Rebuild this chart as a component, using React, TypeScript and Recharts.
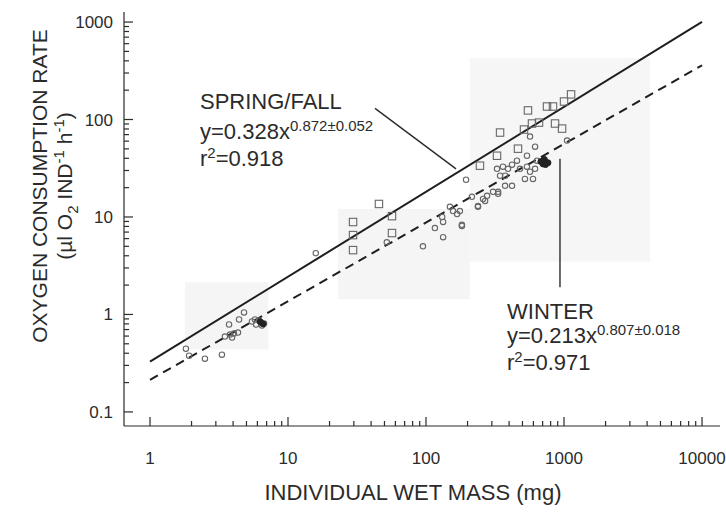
import React from 'react';
import { ScatterChart, Scatter, XAxis, YAxis, ReferenceLine, ReferenceArea } from 'recharts';

// axis ticks (log decades + minor ticks)
const xTicks = [1, 2, 3, 4, 5, 6, 7, 8, 9, 10, 20, 30, 40, 50, 60, 70, 80, 90, 100, 200, 300, 400, 500, 600, 700, 800, 900, 1000, 2000, 3000, 4000, 5000, 6000, 7000, 8000, 9000, 10000];
const xLabels = [1, 10, 100, 1000, 10000];
const yTicks = [0.1, 0.2, 0.3, 0.4, 0.5, 0.6, 0.7, 0.8, 0.9, 1, 2, 3, 4, 5, 6, 7, 8, 9, 10, 20, 30, 40, 50, 60, 70, 80, 90, 100, 200, 300, 400, 500, 600, 700, 800, 900, 1000];
const yLabels = [0.1, 1, 10, 100, 1000];

// spring / fall (open squares)
const springMass = [29.6, 29.6, 29.6, 45.6, 56.7, 56.7, 246, 327, 344, 464, 513, 548, 586, 659, 753, 832, 861, 968, 1000, 1125];
const springRate = [4.57, 6.52, 8.88, 13.6, 6.84, 10.2, 33.6, 42.5, 73.5, 50.2, 78.9, 124, 91, 93, 136, 136, 91, 80.7, 153, 181];

// winter (open circles)
const winterMass = [1.82, 1.92, 2.5, 3.32, 3.74, 4.42, 4.8, 3.49, 3.8, 4.06, 4.34, 3.93, 5.48, 5.87, 6.16, 6.48, 5.76, 6.7, 15.9, 52, 95, 195, 149, 157, 176, 131, 133, 116, 182, 133, 238, 268, 277, 306, 333, 567, 617, 1052, 456, 539, 637, 327, 361, 393, 420, 344, 374, 480, 539, 567, 617, 521, 596, 374, 420, 333, 259, 215, 238, 168, 182];
const winterRate = [0.446, 0.378, 0.352, 0.387, 0.789, 0.888, 1.05, 0.593, 0.622, 0.637, 0.652, 0.579, 0.847, 0.789, 0.867, 0.77, 0.888, 0.808, 4.25, 5.5, 5.0, 24.1, 12.7, 11.5, 11.5, 10.0, 8.9, 7.7, 8.1, 6.2, 13.0, 14.6, 16.5, 18.1, 18.1, 66.8, 52.7, 60.8, 37.8, 42.5, 37.8, 31.2, 32.8, 31.2, 34.4, 26.5, 26.5, 31.2, 32.8, 29.1, 31.2, 24.6, 24.6, 20.9, 20.9, 17.3, 15.3, 16.1, 12.7, 10.7, 8.3];

// winter points printed solid (overlapping cluster)
const winterDarkMass = [680, 705, 735, 765, 720, 6.3, 6.6];
const winterDarkRate = [37, 35, 34.5, 36, 39, 0.84, 0.8];

// regression line end points (x = 1 and x = 10000)
const springFitMass = [1, 10000];
const springFitRate = [0.328, 1002];
const winterFitMass = [1, 10000];
const winterFitRate = [0.213, 360];

const zip = (xs: number[], ys: number[]) => xs.map((x, i) => ({ x, y: ys[i] }));

const springData = zip(springMass, springRate);
const winterData = zip(winterMass, winterRate);
const winterDark = zip(winterDarkMass, winterDarkRate);
const springFit = zip(springFitMass, springFitRate);
const winterFit = zip(winterFitMass, winterFitRate);

const ink = '#2b2b2b';
const font = '"Liberation Sans", Arial, Helvetica, sans-serif';

const BottomTick = (props: any) => {
    const { x, y, payload } = props;
    const major = xLabels.includes(payload.value);
    return (
        <g>
            <line x1={x} y1={y} x2={x} y2={y - (major ? 9 : 5)} stroke={ink} strokeWidth={1.2} />
            {major && (
                <text x={x} y={y + 38} textAnchor="middle" fill={ink} fontSize={17} fontFamily={font}>
                    {payload.value}
                </text>
            )}
        </g>
    );
};

const TopTick = (props: any) => {
    const { x, y, payload } = props;
    const major = xLabels.includes(payload.value);
    return <line x1={x} y1={y} x2={x} y2={y + (major ? 9 : 5)} stroke={ink} strokeWidth={1.2} />;
};

const LeftTick = (props: any) => {
    const { x, y, payload } = props;
    const major = yLabels.includes(payload.value);
    return (
        <g>
            <line x1={x} y1={y} x2={x + (major ? 9 : 5)} y2={y} stroke={ink} strokeWidth={1.2} />
            {major && (
                <text x={x - 11} y={y + 6} textAnchor="end" fill={ink} fontSize={17} fontFamily={font}>
                    {payload.value}
                </text>
            )}
        </g>
    );
};

const RightTick = (props: any) => {
    const { x, y, payload } = props;
    const major = yLabels.includes(payload.value);
    return <line x1={x} y1={y} x2={x - (major ? 9 : 5)} y2={y} stroke={ink} strokeWidth={1.2} />;
};

const SquareMark = (p: any) => (
    <rect x={p.cx - 3.7} y={p.cy - 3.7} width={7.4} height={7.4} fill="none" stroke="#666" strokeWidth={1.1} />
);
const CircleMark = (p: any) => <circle cx={p.cx} cy={p.cy} r={2.7} fill="none" stroke="#666" strokeWidth={1.1} />;
const DarkMark = (p: any) => <circle cx={p.cx} cy={p.cy} r={3} fill="#222" stroke="#222" strokeWidth={1} />;
const NoMark = () => <g />;

const sup: React.CSSProperties = { fontSize: 15, position: 'relative', top: -8 };
const sub: React.CSSProperties = { fontSize: 15, position: 'relative', top: 6 };

const textLine = (left: number, top: number): React.CSSProperties => ({
    position: 'absolute',
    left,
    top,
    fontSize: 22,
    lineHeight: '22px',
    whiteSpace: 'nowrap',
    color: ink,
    fontFamily: font,
});

const App: React.FC = () => {
    return (
        <div style={{ position: 'absolute', left: 0, top: 0, width: 726, height: 513, background: '#fff' }}>
            <ScatterChart width={726} height={513} margin={{ top: 12, right: 6, bottom: 0, left: 0 }}>
                <XAxis
                    dataKey="x"
                    type="number"
                    scale="log"
                    domain={[0.648, 13500]}
                    allowDataOverflow
                    ticks={xTicks}
                    interval={0}
                    height={87}
                    tickSize={0}
                    tickMargin={0}
                    tick={<BottomTick />}
                    axisLine={{ stroke: ink, strokeWidth: 1.2 }}
                    tickLine={false}
                />
                <XAxis
                    xAxisId="top"
                    orientation="top"
                    dataKey="x"
                    type="number"
                    scale="log"
                    domain={[0.648, 13500]}
                    allowDataOverflow
                    ticks={xTicks}
                    interval={0}
                    height={0}
                    tickSize={0}
                    tickMargin={0}
                    tick={<TopTick />}
                    axisLine={{ stroke: ink, strokeWidth: 1.2 }}
                    tickLine={false}
                />
                <YAxis
                    dataKey="y"
                    type="number"
                    scale="log"
                    domain={[0.0717, 1268]}
                    allowDataOverflow
                    ticks={yTicks}
                    interval={0}
                    width={124}
                    tickSize={0}
                    tickMargin={0}
                    tick={<LeftTick />}
                    axisLine={{ stroke: ink, strokeWidth: 1.2 }}
                    tickLine={false}
                />
                <YAxis
                    yAxisId="right"
                    orientation="right"
                    dataKey="y"
                    type="number"
                    scale="log"
                    domain={[0.0717, 1268]}
                    allowDataOverflow
                    ticks={yTicks}
                    interval={0}
                    width={0}
                    tickSize={0}
                    tickMargin={0}
                    tick={<RightTick />}
                    axisLine={{ stroke: ink, strokeWidth: 1.2 }}
                    tickLine={false}
                />

                {/* faint scan patches behind the data groups */}
                <ReferenceArea x1={1.79} x2={7.2} y1={0.436} y2={2.14} fill="#f5f5f5" fillOpacity={1} stroke="none" />
                <ReferenceArea x1={23} x2={208} y1={1.43} y2={12.1} fill="#f5f5f5" fillOpacity={1} stroke="none" />
                <ReferenceArea x1={208} x2={4200} y1={3.5} y2={426} fill="#f6f6f6" fillOpacity={1} stroke="none" />

                <Scatter data={springFit} shape={NoMark} line={{ stroke: '#1e1e1e', strokeWidth: 2 }} isAnimationActive={false} />
                <Scatter
                    data={winterFit}
                    shape={NoMark}
                    line={{ stroke: '#1e1e1e', strokeWidth: 2, strokeDasharray: '9 6' }}
                    isAnimationActive={false}
                />
                <Scatter data={winterData} shape={CircleMark} isAnimationActive={false} />
                <Scatter data={winterDark} shape={DarkMark} isAnimationActive={false} />
                <Scatter data={springData} shape={SquareMark} isAnimationActive={false} />

                {/* label leader lines */}
                <ReferenceLine
                    segment={[{ x: 42.7, y: 130 }, { x: 165, y: 31.2 }]}
                    stroke={ink}
                    strokeWidth={1.4}
                    ifOverflow="visible"
                />
                <ReferenceLine
                    segment={[{ x: 935, y: 39.6 }, { x: 935, y: 1.9 }]}
                    stroke={ink}
                    strokeWidth={1.4}
                    ifOverflow="visible"
                />
            </ScatterChart>

            {/* y axis title */}
            <div
                style={{
                    position: 'absolute',
                    left: 52 - 200,
                    top: 186 - 25,
                    width: 400,
                    height: 50,
                    transform: 'rotate(-90deg)',
                    textAlign: 'center',
                    fontFamily: font,
                    fontSize: 21,
                    lineHeight: '25px',
                    color: ink,
                    whiteSpace: 'nowrap',
                }}
            >
                <div>OXYGEN CONSUMPTION RATE</div>
                <div>
                    (µl O<span style={sub}>2</span> IND<span style={sup}>-1</span> h<span style={sup}>-1</span>)
                </div>
            </div>

            {/* x axis title */}
            <div style={{ ...textLine(213, 482), width: 400, textAlign: 'center' }}>INDIVIDUAL WET MASS (mg)</div>

            {/* spring / fall annotation */}
            <div style={textLine(200, 91)}>SPRING/FALL</div>
            <div style={textLine(200, 121)}>
                y=0.328x<span style={sup}>0.872±0.052</span>
            </div>
            <div style={textLine(200, 148)}>
                r<span style={sup}>2</span>=0.918
            </div>

            {/* winter annotation */}
            <div style={textLine(507, 301)}>WINTER</div>
            <div style={textLine(507, 325)}>
                y=0.213x<span style={sup}>0.807±0.018</span>
            </div>
            <div style={textLine(507, 352)}>
                r<span style={sup}>2</span>=0.971
            </div>
        </div>
    );
};

export default App;
